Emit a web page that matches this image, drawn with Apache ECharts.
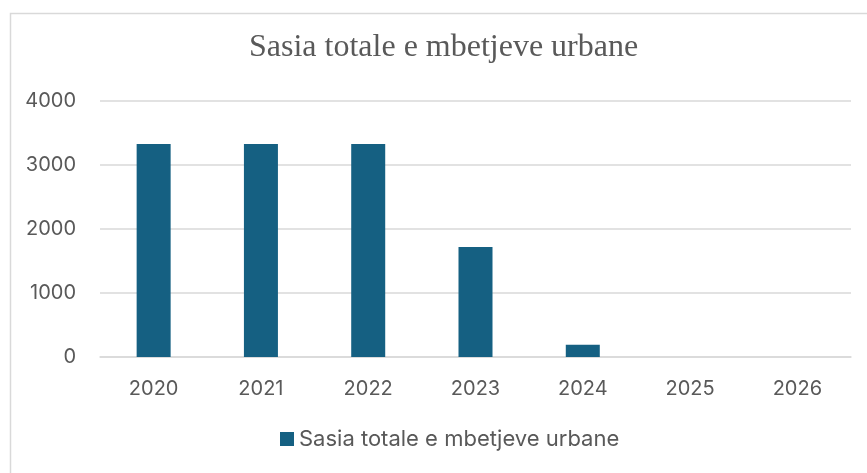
<!DOCTYPE html>
<html>
<head>
<meta charset="utf-8">
<script src="https://cdn.jsdelivr.net/npm/echarts@6/dist/echarts.min.js"></script>
<style>
  html, body { margin: 0; padding: 0; background: #fff; }
  #chart { width: 867px; height: 473px; }
</style>
</head>
<body>
<div id="chart"></div>
<script>
var years = ["2020", "2021", "2022", "2023", "2024", "2025", "2026"];
var wasteTotals = [3330, 3330, 3330, 1720, 190, 0, 0];
var seriesName = "Sasia totale e mbetjeve urbane";
var chartTitle = "Sasia totale e mbetjeve urbane";

var chartDom = document.getElementById("chart");
var myChart = echarts.init(chartDom);
var option = {
  animation: false,
  color: ["#156082"],
  graphic: [
    {
      type: "rect",
      left: 8,
      top: 11,
      shape: { width: 880, height: 480 },
      style: { fill: "none", stroke: "#d9d9d9", lineWidth: 1.5 },
      silent: true,
    },
  ],
  title: {
    text: chartTitle,
    left: 249,
    top: 32,
    padding: 0,
    textStyle: {
      fontFamily: "Liberation Serif",
      fontWeight: "normal",
      fontSize: 32,
      color: "#595959",
    },
  },
  legend: {
    bottom: 18,
    left: 275,
    itemWidth: 14,
    itemHeight: 14,
    icon: "rect",
    itemGap: 6,
    textStyle: {
      fontFamily: "Inter",
      fontSize: 22,
      color: "#595959",
    },
  },
  grid: {
    left: 100,
    right: 16,
    top: 101,
    bottom: 116,
    containLabel: false,
  },
  xAxis: {
    type: "category",
    data: years,
    axisLine: { lineStyle: { color: "#d9d9d9", width: 1.5 } },
    axisTick: { show: false },
    axisLabel: {
      margin: 22,
      fontFamily: "Inter",
      fontSize: 20,
      color: "#595959",
    },
  },
  yAxis: {
    type: "value",
    min: 0,
    max: 4000,
    interval: 1000,
    axisLine: { show: false },
    axisTick: { show: false },
    splitLine: { lineStyle: { color: "#d9d9d9", width: 1.5 } },
    axisLabel: {
      margin: 24,
      fontFamily: "Inter",
      fontSize: 20,
      color: "#595959",
      formatter: function (v) { return String(v); },
    },
  },
  series: [
    {
      name: seriesName,
      type: "bar",
      barWidth: 34,
      data: wasteTotals,
    },
  ],
};

myChart.setOption(option);
</script>
</body>
</html>
